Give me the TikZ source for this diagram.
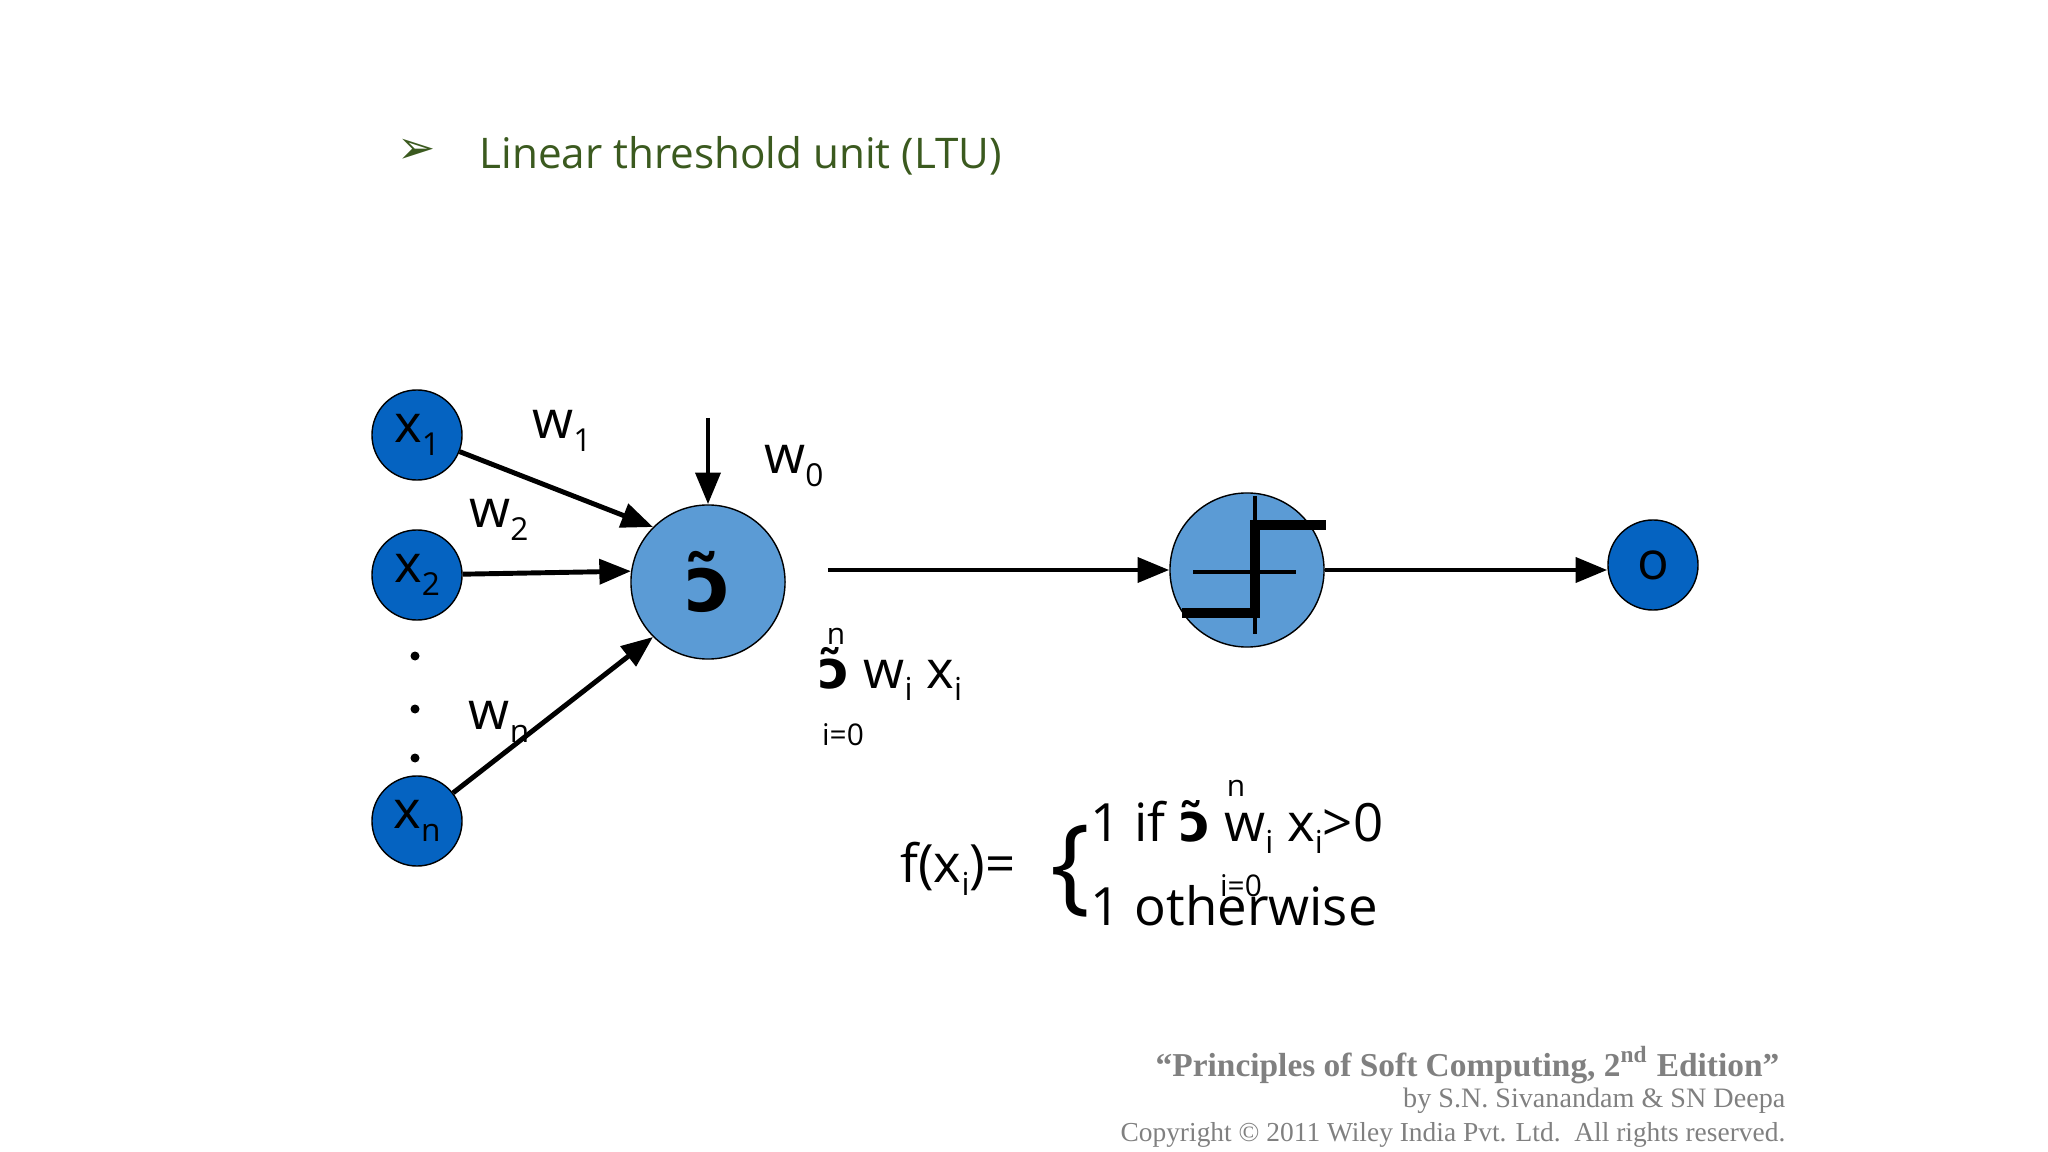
\documentclass[tikz,border=0pt]{standalone}
\usepackage{fontspec}
\setmainfont{Open Sans}
\newfontfamily\symf{DejaVu Sans}
\newfontfamily\footf{Liberation Serif}
\usetikzlibrary{arrows.meta}
\definecolor{titlegreen}{HTML}{3B5A1F}
\definecolor{darkblue}{HTML}{0563C1}
\definecolor{lightblue}{HTML}{5B9BD5}
\newcommand{\lsub}[1]{\raisebox{-0.45ex}{\fontsize{9}{9}\selectfont #1}}
\newcommand{\sumsym}{{\symf\char"0254\char"0303}}
\tikzset{
  inp/.style={circle, draw=black, fill=darkblue, minimum size=0.9cm, inner sep=0pt, font=\fontsize{15}{15}\selectfont},
  unit/.style={circle, draw=black, fill=lightblue, minimum size=1.54cm, inner sep=0pt},
  arr/.style={-{Triangle[length=9pt,width=7pt]}, line width=1.4pt},
  lab/.style={font=\fontsize{15}{15}\selectfont, inner sep=0pt},
  tiny/.style={font=\fontsize{8.5}{8.5}\selectfont, inner sep=0pt},
}
\begin{document}
\begin{tikzpicture}[x=0.01cm,y=-0.01cm]
\useasboundingbox (0,0) rectangle (2048,1152);
% titolo
\node[text=titlegreen, inner sep=0pt] (bul) at (417,151) {\fontsize{13}{13}\selectfont\symf ➢};
\node[text=titlegreen, anchor=west, inner sep=0pt, font=\fontsize{12}{12}\selectfont] (title) at (479,156) {Linear threshold unit (LTU)};
% nodi
\node[inp] (x1) at (417,435) {x\lsub{1}};
\node[inp] (x2) at (417,575) {x\lsub{2}};
\node[inp] (xn) at (417,821) {x\lsub{n}};
\foreach \y in {656,709,758} \fill (415,\y) circle (4.5);
\node[unit] (sum) at (708,582) {\fontsize{22}{22}\selectfont\bfseries\sumsym};
\node[unit] (step) at (1247,570) {};
\node[inp] (out) at (1653,565) {o};
\coordinate (top) at (708,418);
% gradino
\draw[line width=1.2pt] (1193,572) -- (1296,572);
\draw[line width=1.2pt] (1255,496) -- (1255,634);
\draw[line width=2.6pt] (1182,613) -- (1255,613) -- (1255,525) -- (1326,525);
% archi
\draw[arr] (x1) -- (sum.135);
\draw[arr] (x2) -- (sum.172);
\draw[arr] (xn) -- (sum.225);
\draw[arr] (top) -- (sum);
\draw[arr] ([xshift=12]sum.east |- step.west) -- (step.west);
\draw[arr] (step.east) -- (step.east -| out.west);
% etichette
\node[lab] (w1) at (562,431) {w\lsub{1}};
\node[lab] (w2) at (499,520) {w\lsub{2}};
\node[lab] (wn) at (499,722) {w\lsub{n}};
\node[lab] (w0) at (794,466) {w\lsub{0}};
\node[lab, anchor=west] (suml) at (818,674) {{\bfseries\sumsym}{} w\lsub{i} x\lsub{i}};
\node[tiny] at (836,636) {n};
\node[tiny] at (843,735) {i=0};
% formula
\node[lab, anchor=east] (f) at (1016,869) {f(x\lsub{i})=};
\node[lab, font=\fontsize{30}{30}\selectfont] (br) at (1070,871) {\{};
\node[lab, anchor=west] (l1) at (1090,827) {1 if {\bfseries\sumsym}{} w\lsub{i} x\lsub{i}>0};
\node[lab, anchor=west] (l2) at (1090,906) {1 otherwise};
\node[tiny] at (1236,788) {n};
\node[tiny] at (1241,886) {i=0};
% crediti
\node[anchor=east, text=gray, inner sep=0pt, font=\footf\bfseries\fontsize{9.5}{9.5}\selectfont] (c1) at (1780,1065) {“Principles of Soft Computing, 2\textsuperscript{nd} Edition”};
\node[anchor=east, text=gray, inner sep=0pt, font=\footf\fontsize{8}{8}\selectfont] (c2) at (1786,1101) {by S.N. Sivanandam \& SN Deepa};
\node[anchor=east, text=gray, inner sep=0pt, font=\footf\fontsize{7.8}{7.8}\selectfont] (c3) at (1786,1135) {Copyright \textcopyright{} 2011 Wiley India Pvt. Ltd.\ \ All rights reserved.};
\end{tikzpicture}
\end{document}
